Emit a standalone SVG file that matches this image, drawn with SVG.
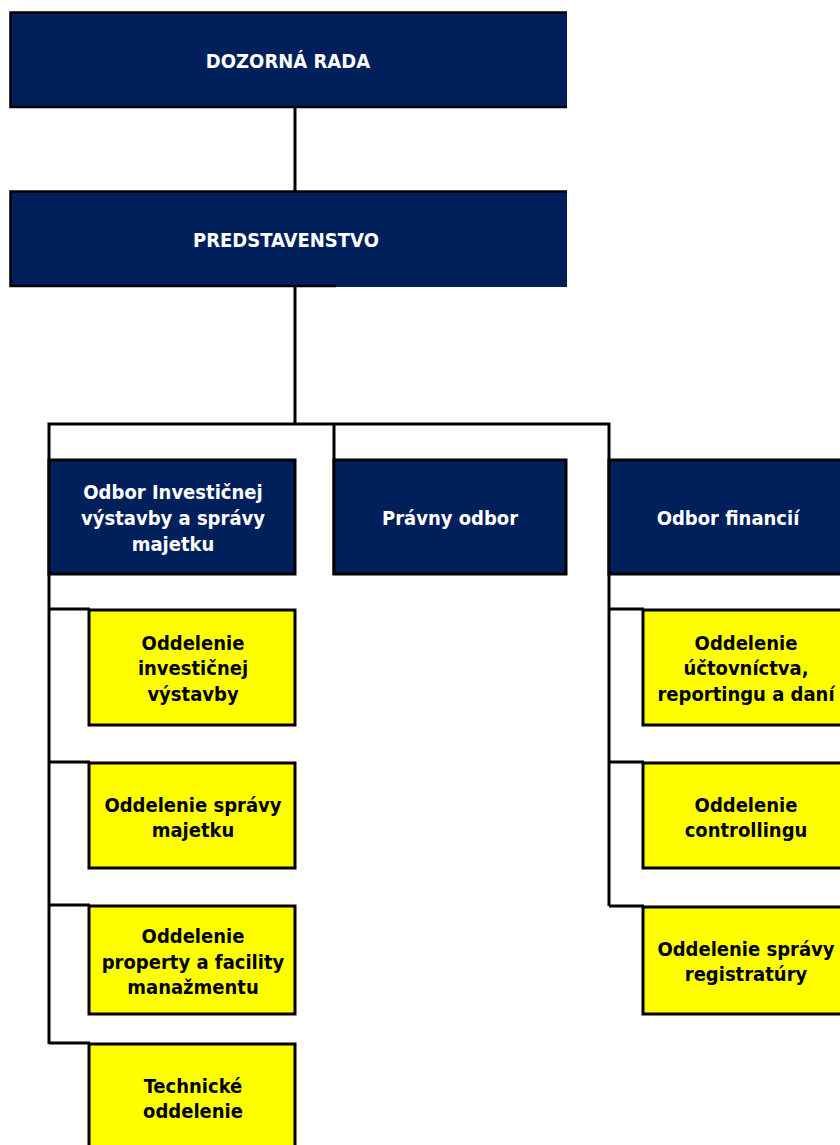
<svg xmlns="http://www.w3.org/2000/svg" width="840" height="1145" viewBox="0 0 840 1145">
<style>
.navy{fill:#00205C;stroke:#000;stroke-width:3}
.yel{fill:#FFFF00;stroke:#000;stroke-width:3}
.wt,.bt{font-family:"DejaVu Sans Condensed","DejaVu Sans",Verdana,sans-serif;font-stretch:condensed;font-weight:bold;font-size:20px;text-anchor:middle}
.wt{fill:#fff}
.bt{fill:#000}
.ln{fill:none;stroke:#000;stroke-width:3}
</style>
<rect width="840" height="1145" fill="#fff"/>
<g id="connectors" class="ln">
<line x1="295" y1="108" x2="295" y2="192"/>
<line x1="295" y1="287" x2="295" y2="424"/>
<polyline points="49,1044 49,424 609,424 609,906"/>
<line x1="334" y1="424" x2="334" y2="575"/>
<line x1="49" y1="609" x2="90" y2="609"/>
<line x1="49" y1="762" x2="90" y2="762"/>
<line x1="49" y1="905" x2="90" y2="905"/>
<line x1="49" y1="1043" x2="90" y2="1043"/>
<line x1="609" y1="609" x2="644" y2="609"/>
<line x1="609" y1="762" x2="644" y2="762"/>
<line x1="609" y1="906" x2="644" y2="906"/>
</g>
<g id="dozorna-rada">
<rect x="10" y="12" width="557" height="96" fill="#00205C"/>
<path d="M567,12.5 H10.5 V107 H567" fill="none" stroke="#000" stroke-width="2.5"/>
<text class="wt" x="288" y="68">DOZORNÁ RADA</text>
</g>
<g id="predstavenstvo">
<rect x="10" y="191" width="557" height="96" fill="#00205C"/>
<path d="M567,191.5 H10.5 V286 H336" fill="none" stroke="#000" stroke-width="2.5"/>
<text class="wt" x="286" y="247">PREDSTAVENSTVO</text>
</g>
<g id="odbor-investicnej">
<rect class="navy" x="49" y="460" width="246" height="114"/>
<text class="wt" x="173" y="499">Odbor Investičnej</text>
<text class="wt" x="173" y="525">výstavby a správy</text>
<text class="wt" x="173" y="551">majetku</text>
</g>
<g id="pravny-odbor">
<rect class="navy" x="334" y="460" width="232" height="114"/>
<text class="wt" x="450" y="525">Právny odbor</text>
</g>
<g id="odbor-financii">
<rect class="navy" x="609" y="460" width="240" height="114"/>
<text class="wt" x="728" y="525">Odbor financií</text>
</g>
<g id="odd-investicnej">
<rect class="yel" x="89" y="610" width="206" height="115"/>
<text class="bt" x="193" y="650">Oddelenie</text>
<text class="bt" x="193" y="675">investičnej</text>
<text class="bt" x="193" y="701">výstavby</text>
</g>
<g id="odd-spravy-majetku">
<rect class="yel" x="89" y="763" width="206" height="105"/>
<text class="bt" x="193" y="812">Oddelenie správy</text>
<text class="bt" x="193" y="837">majetku</text>
</g>
<g id="odd-property">
<rect class="yel" x="89" y="906" width="206" height="108"/>
<text class="bt" x="193" y="943">Oddelenie</text>
<text class="bt" x="193" y="969">property a facility</text>
<text class="bt" x="193" y="994">manažmentu</text>
</g>
<g id="technicke-oddelenie">
<rect class="yel" x="89" y="1044" width="206" height="110"/>
<text class="bt" x="193" y="1093">Technické</text>
<text class="bt" x="193" y="1118">oddelenie</text>
</g>
<g id="odd-uctovnictva">
<rect class="yel" x="643" y="610" width="207" height="115"/>
<text class="bt" x="746" y="650">Oddelenie</text>
<text class="bt" x="746" y="675">účtovníctva,</text>
<text class="bt" x="746" y="701">reportingu a daní</text>
</g>
<g id="odd-controllingu">
<rect class="yel" x="643" y="763" width="207" height="105"/>
<text class="bt" x="746" y="812">Oddelenie</text>
<text class="bt" x="746" y="837">controllingu</text>
</g>
<g id="odd-registratury">
<rect class="yel" x="643" y="907" width="207" height="107"/>
<text class="bt" x="746" y="956">Oddelenie správy</text>
<text class="bt" x="746" y="981">registratúry</text>
</g>
</svg>
